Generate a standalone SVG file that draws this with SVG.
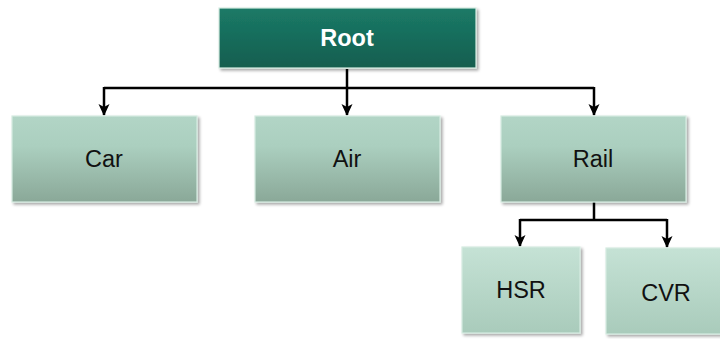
<svg xmlns="http://www.w3.org/2000/svg" width="720" height="339" viewBox="0 0 720 339">
  <defs>
    <linearGradient id="gRoot" x1="0" y1="0" x2="0" y2="1">
      <stop offset="0" stop-color="#1b7a67"/>
      <stop offset="1" stop-color="#145e4f"/>
    </linearGradient>
    <linearGradient id="gMid" x1="0" y1="0" x2="0" y2="1">
      <stop offset="0" stop-color="#b2d5c6"/>
      <stop offset="0.35" stop-color="#abcfbf"/>
      <stop offset="1" stop-color="#8aa898"/>
    </linearGradient>
    <linearGradient id="gLeaf" x1="0" y1="0" x2="0" y2="1">
      <stop offset="0" stop-color="#c5e2d5"/>
      <stop offset="1" stop-color="#a9cbbb"/>
    </linearGradient>
    <filter id="shadow" x="-10%" y="-10%" width="125%" height="130%">
      <feGaussianBlur in="SourceAlpha" stdDeviation="1.5"/>
      <feOffset dx="1.5" dy="2" result="b"/>
      <feComponentTransfer><feFuncA type="linear" slope="0.35"/></feComponentTransfer>
      <feMerge><feMergeNode/><feMergeNode in="SourceGraphic"/></feMerge>
    </filter>
    <marker id="arrow" viewBox="0 0 12 12" refX="11" refY="6" markerWidth="12" markerHeight="12" markerUnits="userSpaceOnUse" orient="auto">
      <path d="M0,0.5 L12,6 L0,11.5 L3,6 Z" fill="#000"/>
    </marker>
  </defs>
  <style>
    .box { stroke: #d6ebe1; stroke-width: 1.2; filter: url(#shadow); }
    .lbl { font-family: "Liberation Sans", Arial, sans-serif; font-size: 23.5px; fill: #111; text-anchor: middle; dominant-baseline: central; }
    .root { fill: #fff; font-weight: bold; }
    .conn { fill: none; stroke: #000; stroke-width: 2.5; }
  </style>

  <g id="connectors">
    <path class="conn" d="M347,69 V88"/>
    <path class="conn" d="M104,88 H594"/>
    <path class="conn" d="M104,87 V115" marker-end="url(#arrow)"/>
    <path class="conn" d="M347,88 V115" marker-end="url(#arrow)"/>
    <path class="conn" d="M594,87 V115" marker-end="url(#arrow)"/>
    <path class="conn" d="M594,202 V220"/>
    <path class="conn" d="M520,220 H667"/>
    <path class="conn" d="M520,219 V246" marker-end="url(#arrow)"/>
    <path class="conn" d="M667,219 V247" marker-end="url(#arrow)"/>
  </g>

  <g id="root">
    <rect class="box" x="219" y="8" width="257" height="60" fill="url(#gRoot)" stroke="#1f7c69"/>
    <text class="lbl root" x="347" y="38">Root</text>
  </g>
  <g id="car">
    <rect class="box" x="12" y="116" width="185" height="86" fill="url(#gMid)"/>
    <text class="lbl" x="104" y="159">Car</text>
  </g>
  <g id="air">
    <rect class="box" x="255" y="116" width="185" height="86" fill="url(#gMid)"/>
    <text class="lbl" x="347" y="159">Air</text>
  </g>
  <g id="rail">
    <rect class="box" x="501" y="116" width="185" height="86" fill="url(#gMid)"/>
    <text class="lbl" x="593" y="159">Rail</text>
  </g>
  <g id="hsr">
    <rect class="box" x="462" y="247" width="118" height="86" fill="url(#gLeaf)"/>
    <text class="lbl" x="521" y="290">HSR</text>
  </g>
  <g id="cvr">
    <rect class="box" x="606" y="248" width="118" height="86" fill="url(#gLeaf)"/>
    <text class="lbl" x="666" y="293">CVR</text>
  </g>
</svg>
